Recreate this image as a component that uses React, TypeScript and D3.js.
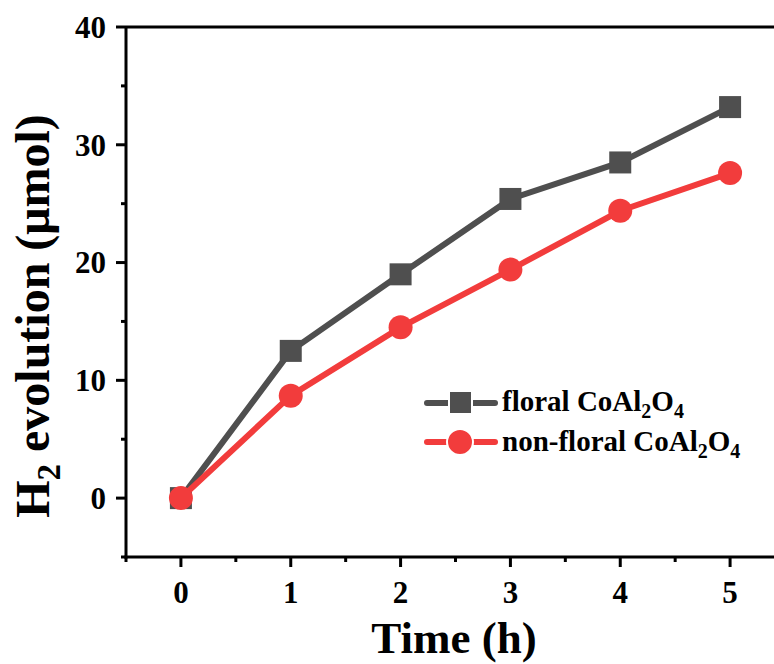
import * as d3 from "d3";

const times = [0, 1, 2, 3, 4, 5];
const floral = [0, 12.5, 19.0, 25.4, 28.5, 33.2];
const nonFloral = [0, 8.7, 14.5, 19.4, 24.4, 27.6];
const xTicks = [0, 1, 2, 3, 4, 5];
const yTicks = [0, 10, 20, 30, 40];

const W = 774;
const H = 664;
const margin = { left: 126, top: 27, right: -11, bottom: 107 };
const FONT = "'Liberation Serif', 'Times New Roman', serif";
const GRAY = "#4f4f4f";
const RED = "#f23c3c";

export default function App() {
  const x = d3.scaleLinear().domain([-0.5, 5.5]).range([margin.left, W - margin.right]);
  const y = d3.scaleLinear().domain([-5, 40]).range([H - margin.bottom, margin.top]);
  const line = d3
    .line<number>()
    .x((_, i) => x(times[i]))
    .y((d) => y(d));

  const x0 = x(-0.5);
  const y0 = y(-5);
  const xMinor = d3.range(-0.5, 5.6, 0.5).filter((v) => !xTicks.includes(v));
  const yMinor = d3.range(-5, 40, 5).filter((v) => !yTicks.includes(v));

  return (
    <svg width={W} height={H} style={{ position: "absolute", left: 0, top: 0, background: "#fff" }}>
      {/* frame */}
      <line x1={x0} x2={W + 10} y1={y(40)} y2={y(40)} stroke="#000" strokeWidth={3} />
      <line x1={x0} x2={x0} y1={y(40)} y2={y0 + 1.5} stroke="#000" strokeWidth={3} />
      <line x1={x0 - 1.5} x2={W + 10} y1={y0} y2={y0} stroke="#000" strokeWidth={3} />

      {/* y ticks */}
      {yTicks.map((t) => (
        <g key={"y" + t}>
          <line x1={x0 - 10} x2={x0} y1={y(t)} y2={y(t)} stroke="#000" strokeWidth={3} />
          <text
            x={x0 - 20}
            y={y(t)}
            dy="0.35em"
            textAnchor="end"
            fontFamily={FONT}
            fontWeight="bold"
            fontSize={31}
          >
            {t}
          </text>
        </g>
      ))}
      {yMinor.map((t) => (
        <line key={"ym" + t} x1={x0 - 5} x2={x0} y1={y(t)} y2={y(t)} stroke="#000" strokeWidth={3} />
      ))}

      {/* x ticks */}
      {xTicks.map((t) => (
        <g key={"x" + t}>
          <line x1={x(t)} x2={x(t)} y1={y0} y2={y0 + 10} stroke="#000" strokeWidth={3} />
          <text
            x={x(t)}
            y={y0 + 46}
            textAnchor="middle"
            fontFamily={FONT}
            fontWeight="bold"
            fontSize={31}
          >
            {t}
          </text>
        </g>
      ))}
      {xMinor.map((t) => (
        <line key={"xm" + t} x1={x(t)} x2={x(t)} y1={y0} y2={y0 + 5} stroke="#000" strokeWidth={3} />
      ))}

      {/* axis titles */}
      <text x={454} y={653} textAnchor="middle" fontFamily={FONT} fontWeight="bold" fontSize={45}>
        Time (h)
      </text>
      <text
        transform="translate(49,316) rotate(-90)"
        textAnchor="middle"
        fontFamily={FONT}
        fontWeight="bold"
        fontSize={48}
      >
        H<tspan fontSize={33} dy={11}>2</tspan>
        <tspan dy={-11}> evolution (μmol)</tspan>
      </text>

      {/* series */}
      <path d={line(floral) ?? ""} fill="none" stroke={GRAY} strokeWidth={6} />
      {floral.map((v, i) => (
        <rect key={"f" + i} x={x(times[i]) - 11} y={y(v) - 11} width={22} height={22} fill={GRAY} />
      ))}
      <path d={line(nonFloral) ?? ""} fill="none" stroke={RED} strokeWidth={6} />
      {nonFloral.map((v, i) => (
        <circle key={"n" + i} cx={x(times[i])} cy={y(v)} r={12} fill={RED} />
      ))}

      {/* legend */}
      <g>
        <line x1={427} x2={495} y1={403} y2={403} stroke={GRAY} strokeWidth={6} strokeLinecap="round" />
        <rect x={449} y={391} width={23} height={23} fill={GRAY} stroke="#fff" strokeWidth={2} />
        <text x={502} y={411} fontFamily={FONT} fontWeight="bold" fontSize={29}>
          floral CoAl<tspan fontSize={20} dy={7}>2</tspan>
          <tspan dy={-7}>O</tspan>
          <tspan fontSize={20} dy={7}>4</tspan>
        </text>
        <line x1={427} x2={495} y1={442} y2={442} stroke={RED} strokeWidth={6} strokeLinecap="round" />
        <circle cx={460} cy={442} r={13} fill={RED} stroke="#fff" strokeWidth={2} />
        <text x={502} y={451} fontFamily={FONT} fontWeight="bold" fontSize={29}>
          non-floral CoAl<tspan fontSize={20} dy={7}>2</tspan>
          <tspan dy={-7}>O</tspan>
          <tspan fontSize={20} dy={7}>4</tspan>
        </text>
      </g>
    </svg>
  );
}
